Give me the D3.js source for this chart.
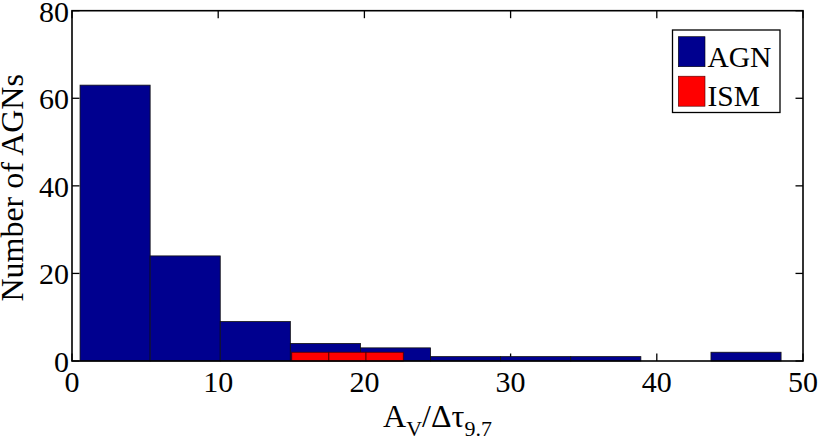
<!DOCTYPE html>
<html>
<head>
<meta charset="utf-8">
<script src="https://cdn.jsdelivr.net/npm/d3@7"></script>
<style>
html,body{margin:0;padding:0;background:#fff;}
svg{display:block;font-family:"Liberation Serif","Times New Roman",serif;}
</style>
</head>
<body>
<svg id="chart" width="818" height="436"></svg>
<script>
// ---- data ----
const agnEdges  = [0.55, 5.345, 10.14, 14.935, 19.73, 24.525, 29.32, 34.115, 38.91, 43.705, 48.5];
const agnCounts = [63, 24, 9, 4, 3, 1, 1, 1, 0, 2];
const ismEdges  = [15.03, 17.57, 20.11, 22.66];
const ismCounts = [2, 2, 2];
const xTicks = [0, 10, 20, 30, 40, 50];
const yTicks = [0, 20, 40, 60, 80];
const legendLabels = ["AGN", "ISM"];
const colors = ["#00008F", "#FF0000"];

const svg = d3.select("#chart");
const L = 72, R = 803, T = 10.7, B = 361;
const x = d3.scaleLinear().domain([0, 50]).range([L, R]);
const y = d3.scaleLinear().domain([0, 80]).range([B, T]);

const agnBins = agnCounts.map((c, i) => ({x0: agnEdges[i], x1: agnEdges[i + 1], c}));
const ismBins = ismCounts.map((c, i) => ({x0: ismEdges[i], x1: ismEdges[i + 1], c}));

// ticks inside (drawn below bars)
const tickLen = 7.5;
const g = svg.append("g");
g.selectAll(".xtb").data(xTicks).join("line")
  .attr("x1", d => x(d)).attr("x2", d => x(d)).attr("y1", B).attr("y2", B - tickLen)
  .attr("stroke", "#000").attr("stroke-width", 1.3);
g.selectAll(".xtt").data(xTicks).join("line")
  .attr("x1", d => x(d)).attr("x2", d => x(d)).attr("y1", T).attr("y2", T + tickLen)
  .attr("stroke", "#000").attr("stroke-width", 1.3);
g.selectAll(".ytl").data(yTicks).join("line")
  .attr("x1", L).attr("x2", L + tickLen).attr("y1", d => y(d)).attr("y2", d => y(d))
  .attr("stroke", "#000").attr("stroke-width", 1.3);
g.selectAll(".ytr").data(yTicks).join("line")
  .attr("x1", R).attr("x2", R - tickLen).attr("y1", d => y(d)).attr("y2", d => y(d))
  .attr("stroke", "#000").attr("stroke-width", 1.3);

// bars
svg.append("g").selectAll("rect").data(agnBins.filter(d => d.c > 0)).join("rect")
  .attr("x", d => x(d.x0)).attr("width", d => x(d.x1) - x(d.x0))
  .attr("y", d => y(d.c)).attr("height", d => y(0) - y(d.c))
  .attr("fill", colors[0]).attr("stroke", "#111").attr("stroke-width", 0.8);
svg.append("g").selectAll("rect").data(ismBins.filter(d => d.c > 0)).join("rect")
  .attr("x", d => x(d.x0)).attr("width", d => x(d.x1) - x(d.x0))
  .attr("y", d => y(d.c)).attr("height", d => y(0) - y(d.c))
  .attr("fill", colors[1]).attr("stroke", "#400").attr("stroke-width", 0.8);

// axes box
svg.append("rect").attr("x", L).attr("y", T).attr("width", R - L).attr("height", B - T)
  .attr("fill", "none").attr("stroke", "#000").attr("stroke-width", 1.6);

// tick labels
svg.append("g").selectAll("text").data(xTicks).join("text")
  .attr("x", d => x(d)).attr("y", B + 31).attr("text-anchor", "middle")
  .attr("font-size", 30).text(d => d);
svg.append("g").selectAll("text").data(yTicks).join("text")
  .attr("x", L - 3).attr("y", d => y(d) + 11).attr("text-anchor", "end")
  .attr("font-size", 30).text(d => d);

// axis labels
svg.append("text").attr("transform", `translate(23,${(T + B) / 2 + 2}) rotate(-90)`)
  .attr("text-anchor", "middle").attr("font-size", 32).text("Number of AGNs");

const xl = svg.append("text").attr("x", (L + R) / 2).attr("y", 426.5)
  .attr("text-anchor", "middle").attr("font-size", 32);
xl.append("tspan").text("A");
xl.append("tspan").attr("font-size", 22).attr("dy", 9).text("V");
xl.append("tspan").attr("dy", -9).text("/Δτ");
xl.append("tspan").attr("font-size", 22).attr("dy", 9).text("9.7");

// legend
const lg = svg.append("g");
lg.append("rect").attr("x", 672.5).attr("y", 30).attr("width", 107.5).attr("height", 82.5)
  .attr("fill", "#fff").attr("stroke", "#000").attr("stroke-width", 1.3);
legendLabels.forEach((lab, i) => {
  const yy = 36.7 + i * 39.5;
  lg.append("rect").attr("x", 678.3).attr("y", yy).attr("width", 26.7).attr("height", 30)
    .attr("fill", colors[i]).attr("stroke", i === 0 ? "#000" : "#400").attr("stroke-width", 0.6);
  lg.append("text").attr("x", 707.5).attr("y", yy + 30).attr("font-size", 29.5).text(lab);
});
</script>
</body>
</html>
